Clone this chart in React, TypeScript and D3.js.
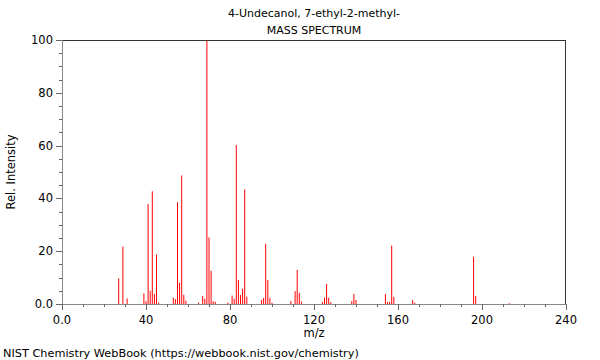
import React from "react";
import * as d3 from "d3";

const mz = [27, 29, 31, 39, 40, 41, 42, 43, 44, 45, 46, 53, 54, 55, 56, 57, 58, 59, 65, 67, 68, 69, 70, 71, 72, 73, 79, 81, 82, 83, 84, 85, 86, 87, 88, 95, 96, 97, 98, 99, 100, 109, 111, 112, 113, 114, 124, 125, 126, 127, 128, 138, 139, 140, 154, 155, 156, 157, 158, 167, 168, 196, 197, 213];
const intensity = [9.7, 21.7, 2.1, 4.0, 1.0, 37.9, 5.0, 42.7, 3.8, 18.8, 0.5, 2.4, 1.8, 38.6, 8.1, 48.7, 3.5, 1.3, 0.5, 3.1, 2.0, 100, 25.2, 12.6, 1.0, 0.8, 0.5, 3.2, 2.0, 60.2, 9.1, 3.4, 5.8, 43.4, 2.8, 1.5, 2.3, 22.8, 9.1, 2.3, 0.4, 1.1, 4.9, 12.9, 4.2, 1.0, 0.8, 2.4, 7.6, 2.4, 0.7, 1.1, 3.8, 1.5, 3.8, 0.8, 0.8, 22.1, 2.7, 1.5, 0.5, 17.9, 3.0, 0.3];
const xTicks = [0, 40, 80, 120, 160, 200, 240];
const xTickLabels = ["0.0", "40", "80", "120", "160", "200", "240"];
const yTicks = [0, 20, 40, 60, 80, 100];
const yTickLabels = ["0.0", "20", "40", "60", "80", "100"];
const titleLines = ["4-Undecanol, 7-ethyl-2-methyl-", "MASS SPECTRUM"];

export default function App() {
  const W = 600, H = 360;
  const left = 62, right = 566, top = 40, bottom = 304;
  const x = d3.scaleLinear().domain([0, 240]).range([left, right]);
  const y = d3.scaleLinear().domain([0, 100]).range([bottom, top]);
  const xMinor = d3.range(0, 241, 10);
  const yMinor = d3.range(0, 101, 5);
  const font = "DejaVu Sans, sans-serif";
  return (
    <svg width={W} height={H} style={{ position: "absolute", left: 0, top: 0 }} fontFamily={font}>
      <rect width={W} height={H} fill="#fff" />
      <text x={314} y={17} fontSize={11} textAnchor="middle" fill="#000">{titleLines[0]}</text>
      <text x={314} y={34} fontSize={11} textAnchor="middle" fill="#000">{titleLines[1]}</text>
      {mz.map((m, i) => (
        <line key={i} x1={x(m)} x2={x(m)} y1={y(0)} y2={y(intensity[i])} stroke="#ff0000" strokeWidth={1} />
      ))}
      <line x1={left} x2={right} y1={top + 0.5} y2={top + 0.5} stroke="#333" />
      <line x1={right - 0.5} x2={right - 0.5} y1={top} y2={bottom} stroke="#333" />
      <line x1={left + 0.5} x2={left + 0.5} y1={top} y2={bottom + 1} stroke="#888" />
      <line x1={left} x2={right} y1={bottom + 0.5} y2={bottom + 0.5} stroke="#888" />
      {yMinor.map((v) => (
        <line key={"ym" + v} x1={left - (v % 20 === 0 ? 6 : 3)} x2={left} y1={Math.round(y(v)) + 0.5} y2={Math.round(y(v)) + 0.5} stroke="#666" />
      ))}
      {xMinor.map((v) => (
        <line key={"xm" + v} x1={Math.round(x(v)) + 0.5} x2={Math.round(x(v)) + 0.5} y1={bottom} y2={bottom + (v % 40 === 0 ? 6 : 3)} stroke="#666" />
      ))}
      {yTicks.map((v, i) => (
        <text key={"yl" + v} x={left - 9} y={y(v) + 4} fontSize={11.5} textAnchor="end" fill="#000">{yTickLabels[i]}</text>
      ))}
      {xTicks.map((v, i) => (
        <text key={"xl" + v} x={x(v)} y={bottom + 20} fontSize={11.5} textAnchor="middle" fill="#000">{xTickLabels[i]}</text>
      ))}
      <text x={314} y={337} fontSize={11.5} textAnchor="middle" fill="#000">m/z</text>
      <text transform={`translate(15,${(top + bottom) / 2}) rotate(-90)`} fontSize={11.5} textAnchor="middle" fill="#000">Rel. Intensity</text>
      <text x={3} y={357} fontSize={11.3} fill="#000">NIST Chemistry WebBook (https://webbook.nist.gov/chemistry)</text>
    </svg>
  );
}
